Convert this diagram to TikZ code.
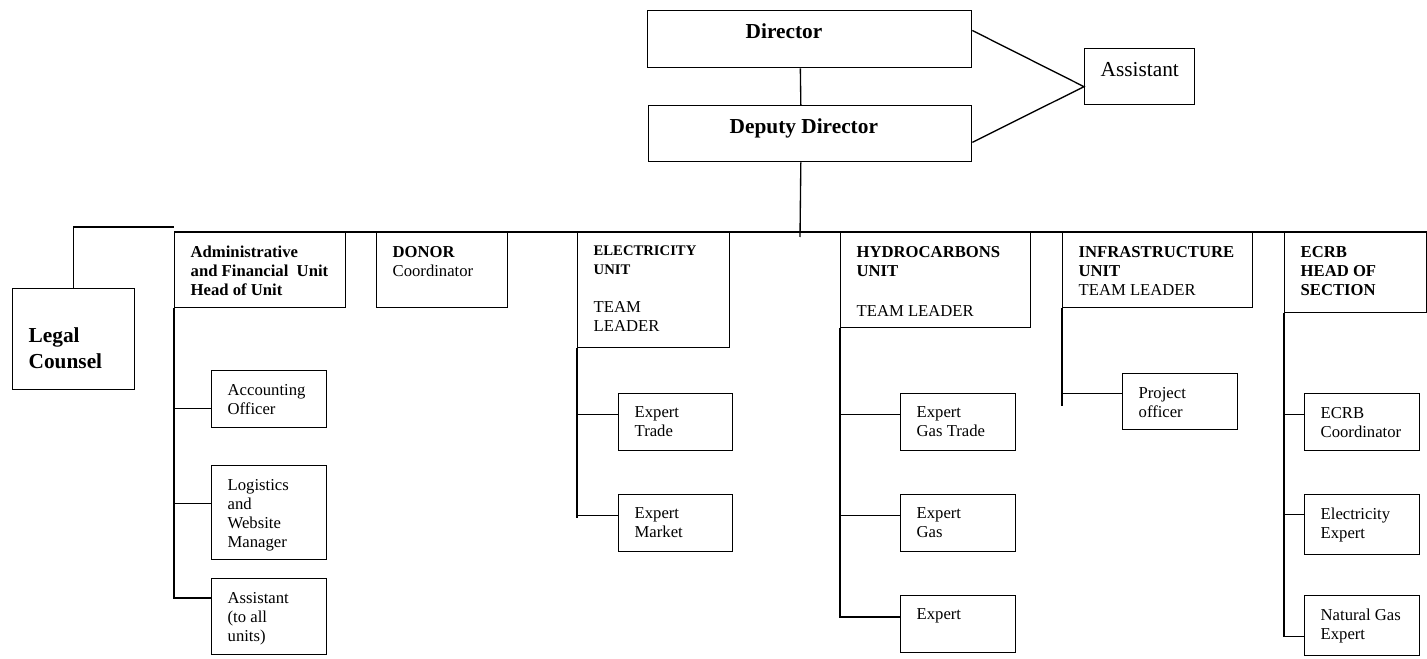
\documentclass[tikz,border=0pt]{standalone}
\usepackage{fontspec}
\setmainfont{Liberation Serif}
\usepackage{tikz}
\hyphenpenalty=10000
\exhyphenpenalty=10000
\newlength{\pxu}
\setlength{\pxu}{0.75pt}
\newcommand*{\orgcell}[4][t]{\parbox[t][\dimexpr#3\pxu-20pt\relax][#1]{\dimexpr#2\pxu-24pt\relax}{\raggedright #4}}
\tikzset{%
  box/.style={draw, line width=1pt, anchor=north west, inner xsep=12pt, inner ysep=10pt,
    font=\fontsize{12.5}{14.3}\selectfont},% unit box
  chief/.style={box, font=\fontsize{16}{19.5}\selectfont\bfseries},% director boxes
  big/.style={box, font=\fontsize{16}{19.5}\selectfont},% assistant box
  link/.style={line width=1pt}% org lines
}

\begin{document}
\begin{tikzpicture}[x=0.75pt, y=-0.75pt]
\useasboundingbox (0,0) rectangle (1427,659);

\node[chief] (dir) at (647,10) {\orgcell{324}{57}{\hspace*{61.5pt}Director}};
\node[chief] (dep) at (648,105) {\orgcell{323}{56}{\hspace*{48.75pt}Deputy Director}};
\node[big] (asst) at (1084,48) {\orgcell{110}{56}{Assistant}};
\node[chief] (legal) at (12,288) {\orgcell{122}{101}{\vspace*{19pt}Legal\\Counsel}};

\node[box] (admin) at (174,232) {\orgcell{171}{75}{\textbf{Administrative\\and Financial\ \ Unit\\Head of Unit}}};
\node[box] (donor) at (376,232) {\orgcell{131}{75}{\textbf{DONOR}\\Coordinator}};
\node[box] (elec) at (577,232) {\orgcell{152}{115}{{\fontsize{11}{12.5}\selectfont\bfseries ELECTRICITY\\UNIT}\\[14pt]TEAM\\LEADER}};
\node[box] (hydro) at (840,232) {\orgcell{190}{95}{\textbf{HYDROCARBONS\\UNIT}\\[16pt]TEAM LEADER}};
\node[box] (infra) at (1062,232) {\orgcell{190}{75}{\textbf{INFRASTRUCTURE\\UNIT}\\TEAM LEADER}};
\node[box] (ecrb) at (1284,232) {\orgcell{142}{80}{\textbf{ECRB\\HEAD OF\\SECTION}}};

\node[box] (acc) at (211,370) {\orgcell{115}{57}{Accounting\\Officer}};
\node[box] (logi) at (211,465) {\orgcell{115}{94}{Logistics\\and\\Website\\Manager}};
\node[box] (allasst) at (211,578) {\orgcell{115}{76}{Assistant\\(to all\\units)}};

\node[box] (trade) at (618,393) {\orgcell{114}{57}{Expert\\Trade}};
\node[box] (market) at (618,494) {\orgcell{114}{57}{Expert\\Market}};

\node[box] (gastrade) at (900,393) {\orgcell{115}{57}{Expert\\Gas Trade}};
\node[box] (gas) at (900,494) {\orgcell{115}{57}{Expert\\Gas}};
\node[box] (expert) at (900,595) {\orgcell{115}{57}{Expert}};

\node[box] (project) at (1122,373) {\orgcell{115}{56}{Project\\officer}};

\node[box] (ecrbco) at (1304,393) {\orgcell{115}{57}{ECRB\\Coordinator}};
\node[box] (elexp) at (1304,494) {\orgcell{115}{60}{Electricity\\Expert}};
\node[box] (ngexp) at (1304,595) {\orgcell{115}{60}{Natural Gas\\Expert}};

% top of the chart
\draw[link] ([xshift=-7pt]dir.south) -- ([xshift=-7pt]dep.north);
\draw[link] ([yshift=6.5pt]dir.east) -- ([yshift=-7.5pt]asst.west) -- ([yshift=-6.5pt]dep.east);
\coordinate (tick) at (800,237);
\draw[link] ([xshift=-7pt]dep.south) -- (tick);

% main bar
\draw[link] (admin.north west) -- (ecrb.north east);
\coordinate (lc) at (174,227);
\draw[link] (legal.north) |- (lc);

% admin unit
\draw[link] ([yshift=-7pt]acc.west) -| (admin.south west);
\draw[link] ([yshift=7pt]logi.west) -| (admin.south west);
\draw[link] ([yshift=14pt]allasst.west) -| (admin.south west);

% electricity unit
\coordinate (elecend) at (577,518);
\draw[link] (elec.south west) -- (elecend);
\draw[link] ([yshift=6pt]trade.west) -| (elec.south west);
\draw[link] ([yshift=6pt]market.west) -| (elec.south west);

% hydrocarbons unit
\draw[link] ([yshift=6pt]gastrade.west) -| (hydro.south west);
\draw[link] ([yshift=6pt]gas.west) -| (hydro.south west);
\draw[link] ([yshift=5.5pt]expert.west) -| (hydro.south west);

% infrastructure unit
\coordinate (infraend) at (1062,406);
\draw[link] (infra.south west) -- (infraend);
\draw[link] ([yshift=6pt]project.west) -| (infra.south west);

% ecrb
\draw[link] ([yshift=6pt]ecrbco.west) -| (ecrb.south west);
\draw[link] ([yshift=7.5pt]elexp.west) -| (ecrb.south west);
\draw[link] ([yshift=-8pt]ngexp.west) -| (ecrb.south west);
\end{tikzpicture}
\end{document}
